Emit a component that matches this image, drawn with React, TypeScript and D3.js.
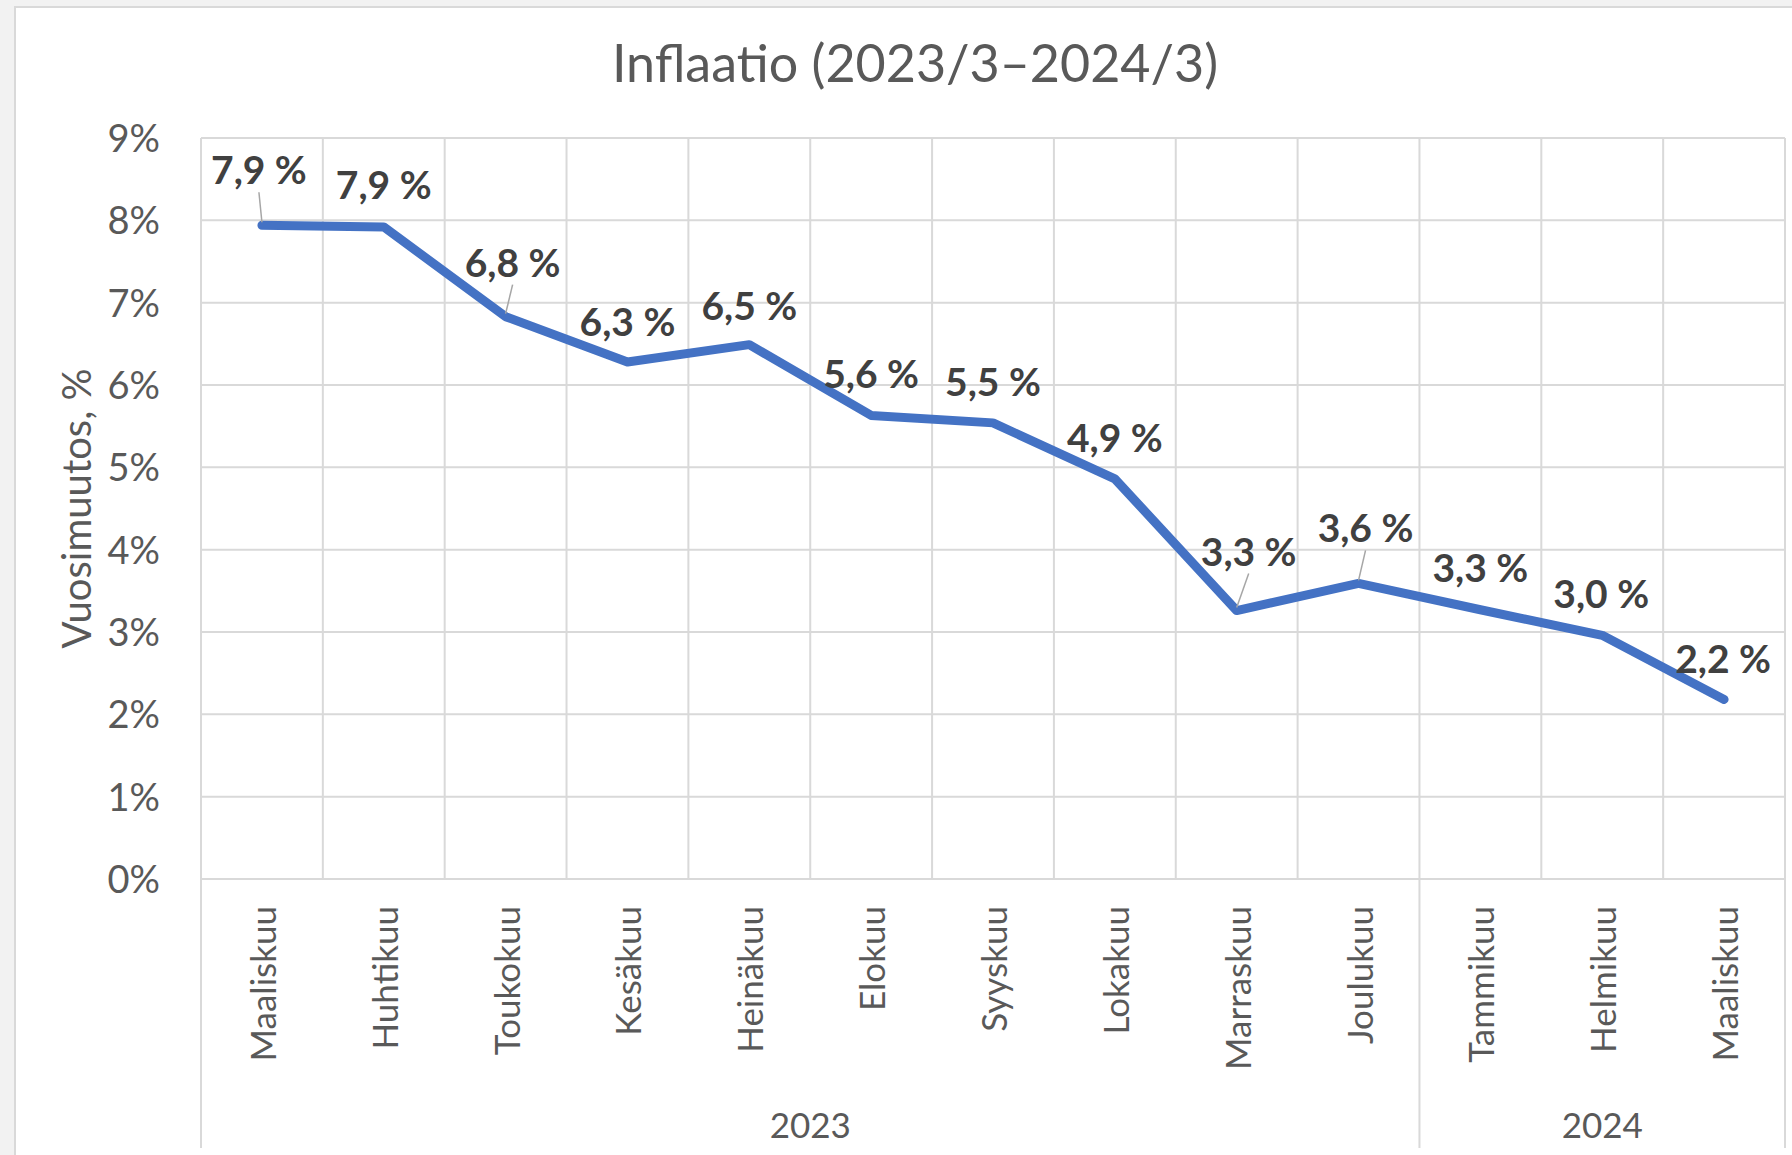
import React, { useEffect, useRef } from 'react';
import * as d3 from 'd3';

// monthly inflation, year-on-year change (%)
const months = [
  'Maaliskuu', 'Huhtikuu', 'Toukokuu', 'Kesäkuu', 'Heinäkuu', 'Elokuu', 'Syyskuu',
  'Lokakuu', 'Marraskuu', 'Joulukuu', 'Tammikuu', 'Helmikuu', 'Maaliskuu',
];
const inflation = [7.94, 7.92, 6.83, 6.28, 6.49, 5.63, 5.54, 4.86, 3.26, 3.59, 3.27, 2.96, 2.18];
const years = [
  { label: '2023', count: 10 },
  { label: '2024', count: 3 },
];
const yTicks = [0, 1, 2, 3, 4, 5, 6, 7, 8, 9];

// label placement tweaks (dx, dy from the point), leader lines where moved away
const labelNudge: [number, number, boolean][] = [
  [-3, -55, true], [0, -42, false], [7, -54, true], [0, -40, false], [0, -39, false],
  [0, -41, false], [0, -41, false], [0, -41, false], [12, -59, true], [7, -55, true],
  [0, -42, false], [-1, -41, false], [-1, -41, false],
];

const FONT = "Lato, 'Open Sans', sans-serif";

function LineChart() {
  const ref = useRef<SVGSVGElement>(null);

  useEffect(() => {
    const svg = d3.select(ref.current);
    svg.selectAll('*').remove();

    const width = 1792;
    const height = 1155;
    const plot = { left: 201, right: 1785, top: 138, bottom: 879 };

    // background + panel
    svg.append('rect').attr('width', width).attr('height', height).attr('fill', '#f2f2f2');
    svg
      .append('rect')
      .attr('x', 15)
      .attr('y', 7)
      .attr('width', width + 20)
      .attr('height', height + 20)
      .attr('fill', '#ffffff')
      .attr('stroke', '#d9d9d9')
      .attr('stroke-width', 2);

    const idx = months.map((_, i) => String(i));
    const x = d3.scaleBand<string>().domain(idx).range([plot.left, plot.right]).padding(0);
    const y = d3.scaleLinear().domain([0, 9]).range([plot.bottom, plot.top]);
    const cx = (i: number) => (x(String(i)) as number) + x.bandwidth() / 2;

    const grid = svg.append('g').attr('stroke', '#d9d9d9').attr('stroke-width', 2);

    // horizontal gridlines
    grid
      .selectAll('line.h')
      .data(yTicks)
      .enter()
      .append('line')
      .attr('x1', plot.left)
      .attr('x2', plot.right)
      .attr('y1', (d) => y(d))
      .attr('y2', (d) => y(d));

    // vertical gridlines at category edges
    const edges = idx.map((d) => x(d) as number).concat([plot.right]);
    grid
      .selectAll('line.v')
      .data(edges)
      .enter()
      .append('line')
      .attr('x1', (d) => d)
      .attr('x2', (d) => d)
      .attr('y1', plot.top)
      .attr('y2', plot.bottom);

    // year group separators below the axis
    let acc = 0;
    const groupEdges = [plot.left];
    years.forEach((yr) => {
      acc += yr.count;
      const i = acc - 1;
      groupEdges.push((x(String(i)) as number) + x.bandwidth());
    });
    grid
      .selectAll('line.g')
      .data(groupEdges)
      .enter()
      .append('line')
      .attr('x1', (d) => d)
      .attr('x2', (d) => d)
      .attr('y1', plot.bottom)
      .attr('y2', 1148);

    // y tick labels
    svg
      .append('g')
      .selectAll('text')
      .data(yTicks)
      .enter()
      .append('text')
      .attr('x', 160)
      .attr('y', (d) => y(d) + 14)
      .attr('text-anchor', 'end')
      .attr('font-family', FONT)
      .attr('font-size', 38)
      .attr('fill', '#595959')
      .text((d) => `${d}%`);

    // y axis title
    svg
      .append('text')
      .attr('transform', `translate(76,${(plot.top + plot.bottom) / 2}) rotate(-90)`)
      .attr('text-anchor', 'middle')
      .attr('dominant-baseline', 'central')
      .attr('font-family', FONT)
      .attr('font-size', 40)
      .attr('fill', '#595959')
      .text('Vuosimuutos, %');

    // month labels
    svg
      .append('g')
      .selectAll('text')
      .data(months)
      .enter()
      .append('text')
      .attr('transform', (_, i) => `translate(${cx(i)},906) rotate(-90)`)
      .attr('text-anchor', 'end')
      .attr('dominant-baseline', 'central')
      .attr('font-family', FONT)
      .attr('font-size', 35)
      .attr('fill', '#595959')
      .text((d) => d);

    // year labels
    acc = 0;
    years.forEach((yr) => {
      const x0 = x(String(acc)) as number;
      const x1 = (x(String(acc + yr.count - 1)) as number) + x.bandwidth();
      acc += yr.count;
      svg
        .append('text')
        .attr('x', (x0 + x1) / 2)
        .attr('y', 1138)
        .attr('text-anchor', 'middle')
        .attr('font-family', FONT)
        .attr('font-size', 35)
        .attr('fill', '#595959')
        .text(yr.label);
    });

    // title
    svg
      .append('text')
      .attr('x', 915)
      .attr('y', 82)
      .attr('text-anchor', 'middle')
      .attr('font-family', FONT)
      .attr('font-size', 52)
      .attr('fill', '#595959')
      .text('Inflaatio (2023/3–2024/3)');

    // series line
    const line = d3
      .line<number>()
      .x((_, i) => cx(i))
      .y((d) => y(d));

    svg
      .append('path')
      .datum(inflation)
      .attr('fill', 'none')
      .attr('stroke', '#4472c4')
      .attr('stroke-width', 9)
      .attr('stroke-linejoin', 'round')
      .attr('stroke-linecap', 'round')
      .attr('d', line);

    // data labels
    const fi = d3.formatLocale({ decimal: ',', thousands: ' ', grouping: [3], currency: ['', ' €'] });
    const fmt = fi.format('.1f');

    inflation.forEach((v, i) => {
      const [dx, dy, leader] = labelNudge[i];
      const px = cx(i);
      const py = y(v);
      const lx = px + dx;
      const ly = py + dy;
      if (leader) {
        svg
          .append('line')
          .attr('x1', lx)
          .attr('y1', ly + 22)
          .attr('x2', px)
          .attr('y2', py - 3)
          .attr('stroke', '#a6a6a6')
          .attr('stroke-width', 1.5);
      }
      svg
        .append('text')
        .attr('x', lx)
        .attr('y', ly + 14)
        .attr('text-anchor', 'middle')
        .attr('font-family', FONT)
        .attr('font-size', 39)
        .attr('font-weight', 'bold')
        .attr('fill', '#404040')
        .text(`${fmt(v)} %`);
    });
  }, []);

  return (
    <svg
      ref={ref}
      width={1792}
      height={1155}
      style={{ position: 'absolute', left: 0, top: 0, display: 'block' }}
    />
  );
}

export default function App() {
  return <LineChart />;
}
